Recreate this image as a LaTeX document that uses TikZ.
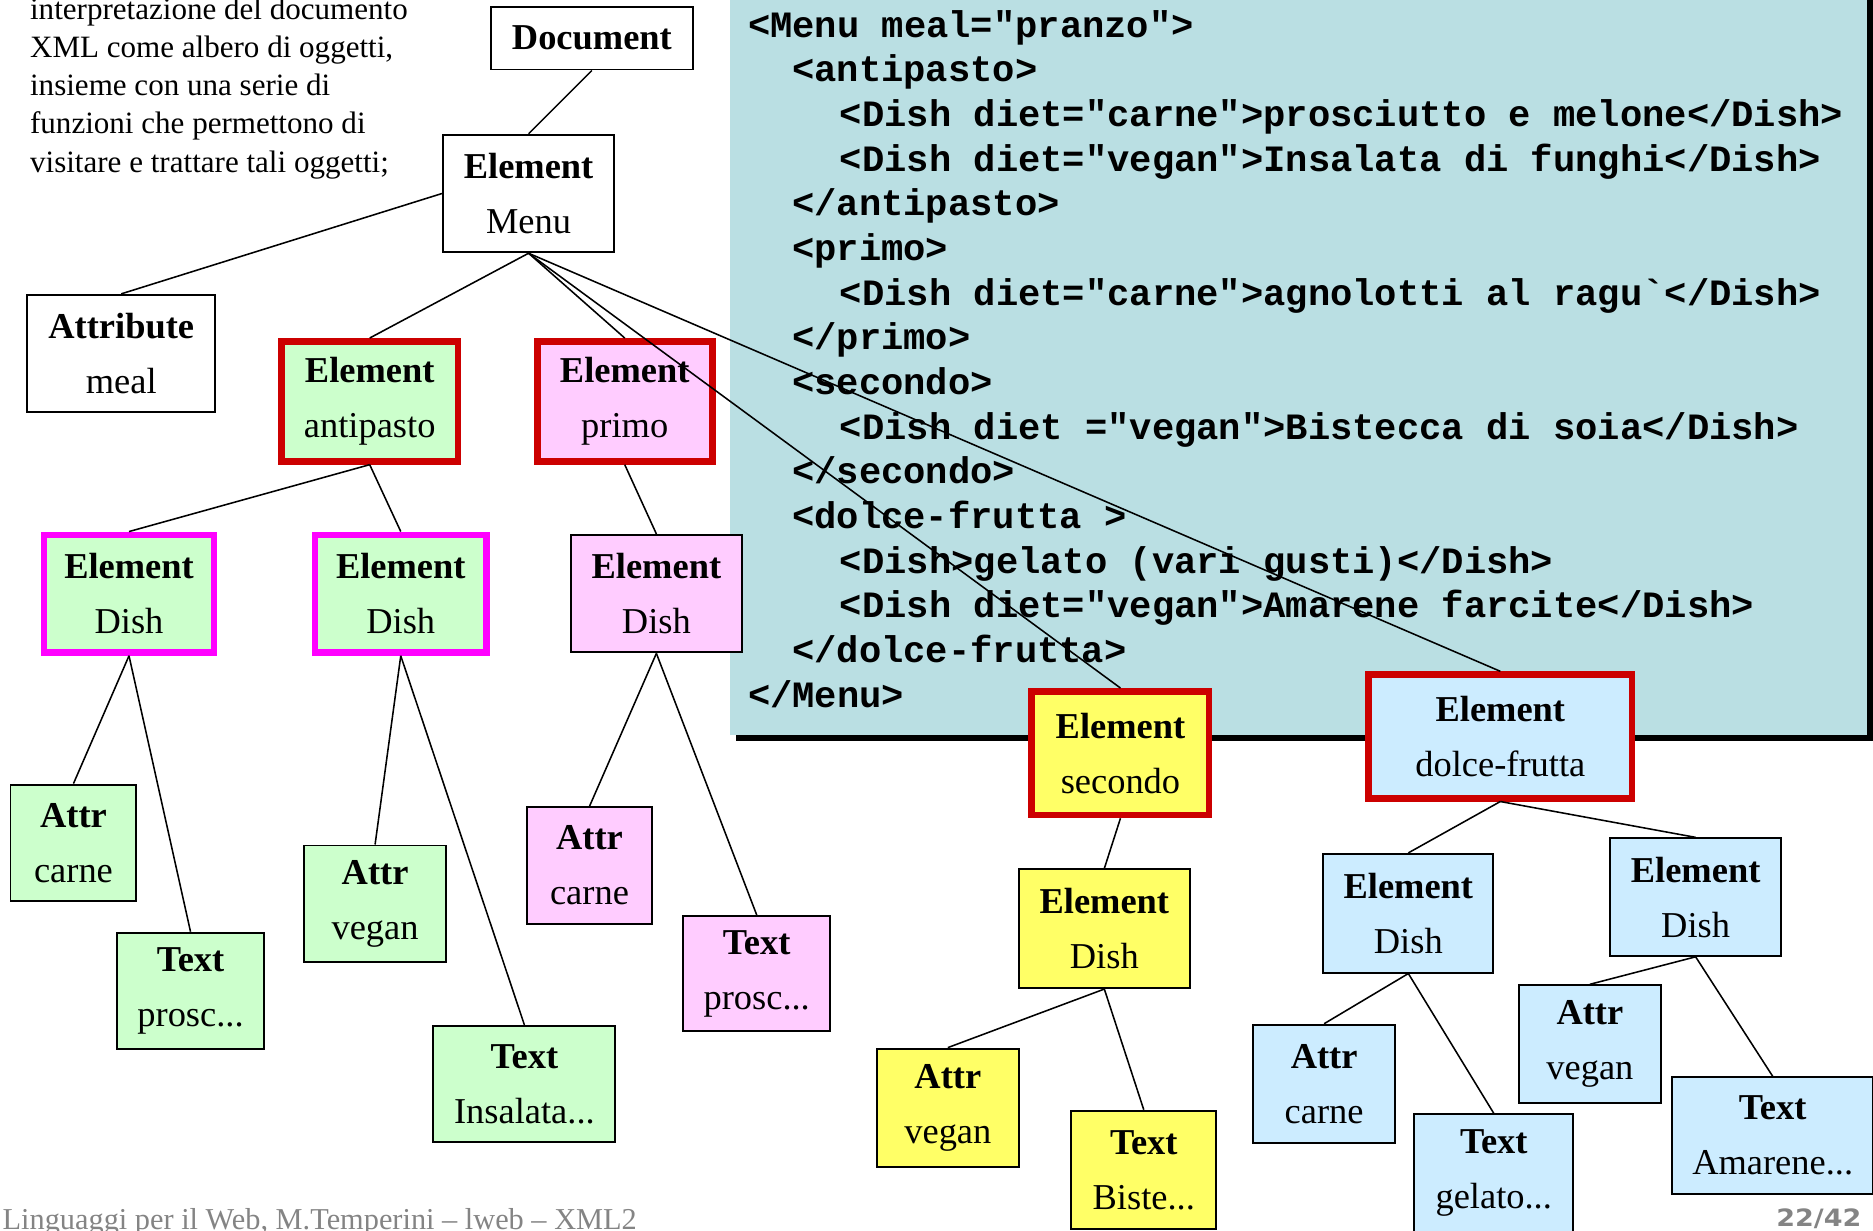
\documentclass[tikz,border=0pt]{standalone}
\usepackage{graphicx}
\usepackage{fontspec}
\setmainfont{Liberation Serif}
\setmonofont{Liberation Mono}
\setsansfont{Liberation Sans}
\newfontfamily\pagefont{DejaVu Sans}
\definecolor{cgreen}{HTML}{CCFFCC}
\definecolor{cpink}{HTML}{FFCCFF}
\definecolor{cyellow}{HTML}{FFFF66}
\definecolor{cblue}{HTML}{CCECFF}
\definecolor{cred}{HTML}{CC0000}
\definecolor{cmag}{HTML}{FF00FF}
\definecolor{ccode}{HTML}{BADFE3}
\definecolor{cfoot}{HTML}{848484}
\newcommand\ndfont{\fontsize{30.5}{46}\selectfont}
\newcommand\cdfont{\fontsize{31.1}{37.4}\ttfamily\bfseries\selectfont}
\newcommand\txfont{\fontsize{26}{32}\selectfont}
\tikzset{
  box/.style={draw=black, line width=1.6pt, inner sep=0pt, align=center, font=\ndfont},
  redbox/.style={box, draw=cred, line width=5.5pt},
  magbox/.style={box, draw=cmag, line width=5.5pt},
  edge/.style={line width=1.3pt},
  codeline/.style={anchor=base west, inner sep=0pt, font=\cdfont},
  txline/.style={anchor=base west, inner sep=0pt, font=\txfont},
}
\begin{document}
\begin{tikzpicture}[x=1pt,y=-1pt]
\useasboundingbox (0,0) rectangle (1568,1030);
\clip (0,0) rectangle (1568,1030);
% code panel with shadow
\fill[black] (616,-20) rectangle (1575,620);
\fill[ccode] (611,-20) rectangle (1563,615);
\node[codeline] (c1) at (626,31) {<Menu meal="pranzo">};
\node[codeline] (c2) at (663,68.4) {<antipasto>};
\node[codeline] (c3) at (703,105.8) {<Dish diet="carne">prosciutto e melone</Dish>};
\node[codeline] (c4) at (703,143.2) {<Dish diet="vegan">Insalata di funghi</Dish>};
\node[codeline] (c5) at (663,180.6) {</antipasto>};
\node[codeline] (c6) at (663,218.0) {<primo>};
\node[codeline] (c7) at (703,255.4) {<Dish diet="carne">agnolotti al ragu\symbol{96}</Dish>};
\node[codeline] (c8) at (663,292.8) {</primo>};
\node[codeline] (c9) at (663,330.2) {<secondo>};
\node[codeline] (c10) at (703,367.6) {<Dish diet ="vegan">Bistecca di soia</Dish>};
\node[codeline] (c11) at (663,405.0) {</secondo>};
\node[codeline] (c12) at (663,442.4) {<dolce-frutta >};
\node[codeline] (c13) at (703,479.8) {<Dish>gelato (vari gusti)</Dish>};
\node[codeline] (c14) at (703,517.2) {<Dish diet="vegan">Amarene farcite</Dish>};
\node[codeline] (c15) at (663,554.6) {</dolce-frutta>};
\node[codeline] (c16) at (626,592.0) {</Menu>};
% explanatory text
\node[txline] (l1) at (25,16) {interpretazione del documento};
\node[txline] (l2) at (25,48) {XML come albero di oggetti,};
\node[txline] (l3) at (25,80) {insieme con una serie di};
\node[txline] (l4) at (25,112) {funzioni che permettono di};
\node[txline] (l5) at (25,144) {visitare e trattare tali oggetti;};
% tree nodes
\node[box, fill=white, minimum width=169.4, minimum height=52.4] (doc) at (495.5,32) {\textbf{Document}};
\node[box, fill=white, minimum width=143.4, minimum height=98.4] (menu) at (442.5,162) {\textbf{Element}\\Menu};
\node[box, fill=white, minimum width=157.4, minimum height=98.4] (meal) at (101.5,296) {\textbf{Attribute}\\meal};
\node[redbox, fill=cgreen, minimum width=147.5, minimum height=100.5] (anti) at (309.5,336) {\textbf{Element}\\antipasto};
\node[redbox, fill=cpink, minimum width=146.5, minimum height=100.5] (primo) at (523,336) {\textbf{Element}\\primo};
\node[magbox, fill=cgreen, minimum width=142.5, minimum height=98.5] (dish1) at (108,497) {\textbf{Element}\\Dish};
\node[magbox, fill=cgreen, minimum width=143.5, minimum height=98.5] (dish2) at (335.5,497) {\textbf{Element}\\Dish};
\node[box, fill=cpink, minimum width=143.4, minimum height=98.4] (dish3) at (549.5,497) {\textbf{Element}\\Dish};
\node[box, fill=cgreen, minimum width=105.4, minimum height=97.4] (a1) at (61.5,705.5) {\textbf{Attr}\\carne};
\node[box, fill=cgreen, minimum width=123.4, minimum height=97.4] (t1) at (159.5,829.5) {\textbf{Text}\\prosc...};
\node[box, fill=cgreen, minimum width=118.4, minimum height=97.4] (a2) at (314,756.5) {\textbf{Attr}\\vegan};
\node[box, fill=cgreen, minimum width=152.4, minimum height=97.4] (t2) at (439,907.5) {\textbf{Text}\\Insalata...};
\node[box, fill=cpink, minimum width=105.4, minimum height=97.4] (a3) at (493.5,724.5) {\textbf{Attr}\\carne};
\node[box, fill=cpink, minimum width=123.4, minimum height=96.4] (t3) at (633.5,815) {\textbf{Text}\\prosc...};
\node[redbox, fill=cyellow, minimum width=148.5, minimum height=103.5] (sec) at (938,630.5) {\textbf{Element}\\secondo};
\node[redbox, fill=cblue, minimum width=220.5, minimum height=103.5] (dolce) at (1256,616.5) {\textbf{Element}\\dolce-frutta};
\node[box, fill=cyellow, minimum width=143.4, minimum height=99.4] (dishs) at (924.5,777.5) {\textbf{Element}\\Dish};
\node[box, fill=cyellow, minimum width=119.4, minimum height=99.4] (as) at (793.5,927.5) {\textbf{Attr}\\vegan};
\node[box, fill=cyellow, minimum width=121.4, minimum height=99.4] (ts) at (957.5,979.5) {\textbf{Text}\\Biste...};
\node[box, fill=cblue, minimum width=142.4, minimum height=99.4] (dd1) at (1179,764.5) {\textbf{Element}\\Dish};
\node[box, fill=cblue, minimum width=143.4, minimum height=98.4] (dd2) at (1419.5,751) {\textbf{Element}\\Dish};
\node[box, fill=cblue, minimum width=119.4, minimum height=99.4] (ad1) at (1108.5,907.5) {\textbf{Attr}\\carne};
\node[box, fill=cblue, minimum width=133.4, minimum height=98.4] (tg) at (1250.5,982) {\textbf{Text}\\gelato...};
\node[box, fill=cblue, minimum width=118.4, minimum height=98.4] (ad2) at (1331,874) {\textbf{Attr}\\vegan};
\node[box, fill=cblue, minimum width=168.4, minimum height=97.4] (tam) at (1484,950.5) {\textbf{Text}\\Amarene...};
% connectors
\draw[edge] (doc.south) -- (menu.north);
\draw[edge] (menu.west) -- (meal.north);
\draw[edge] (menu.south) -- (anti.north);
\draw[edge] (menu.south) -- (primo.north);
\draw[edge] (menu.south) -- (sec.north);
\draw[edge] (menu.south) -- (dolce.north);
\draw[edge] (anti.south) -- (dish1.north);
\draw[edge] (anti.south) -- (dish2.north);
\draw[edge] (primo.south) -- (dish3.north);
\draw[edge] (dish1.south) -- (a1.north);
\draw[edge] (dish1.south) -- (t1.north);
\draw[edge] (dish2.south) -- (a2.north);
\draw[edge] (dish2.south) -- (t2.north);
\draw[edge] (dish3.south) -- (a3.north);
\draw[edge] (dish3.south) -- (t3.north);
\draw[edge] (sec.south) -- (dishs.north);
\draw[edge] (dishs.south) -- (as.north);
\draw[edge] (dishs.south) -- (ts.north);
\draw[edge] (dolce.south) -- (dd1.north);
\draw[edge] (dolce.south) -- (dd2.north);
\draw[edge] (dd1.south) -- (ad1.north);
\draw[edge] (dd1.south) -- (tg.north);
\draw[edge] (dd2.south) -- (ad2.north);
\draw[edge] (dd2.south) -- (tam.north);
% footer
\node[anchor=base west, inner sep=0pt, text=cfoot, font=\fontsize{25.4}{30}\selectfont] (foot) at (2,1029.5) {Linguaggi per il Web, M.Temperini – lweb – XML2};
\node[anchor=base east, inner sep=0pt, text=cfoot, font=\fontsize{20}{24}\pagefont\bfseries\selectfont] (page) at (1558.4,1026.9) {\scalebox{1.13}[1]{22/42}};
\end{tikzpicture}
\end{document}
